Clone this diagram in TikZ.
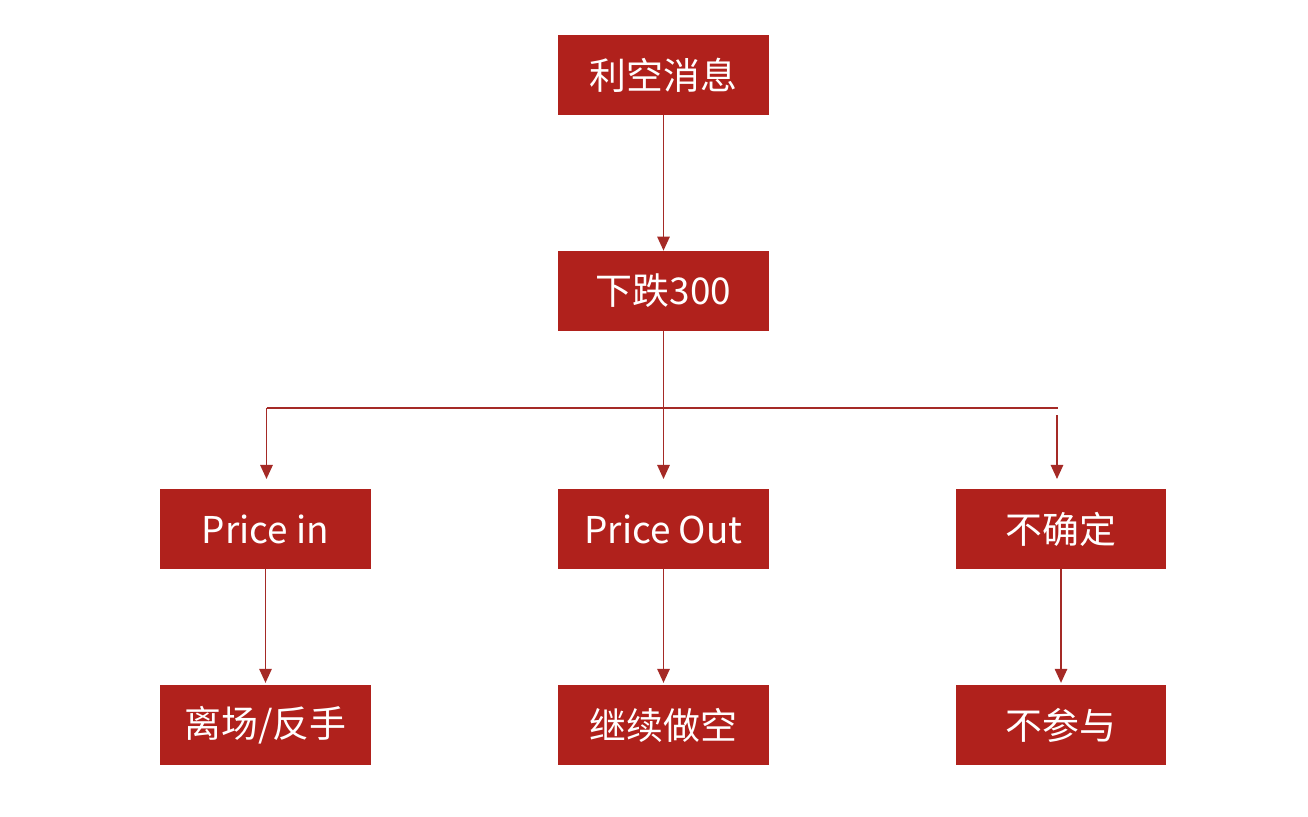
\documentclass[tikz,border=0pt]{standalone}
\usepackage{fontspec}
\setmainfont{Noto Sans CJK SC}
\usetikzlibrary{arrows.meta}
\definecolor{boxred}{HTML}{B0211C}
\definecolor{linered}{HTML}{A52A26}
\begin{document}
\begin{tikzpicture}[x=0.02cm,y=-0.02cm,
  box/.style={fill=boxred,draw=none,minimum width=4.22cm,minimum height=1.6cm,inner sep=0pt,text=white,font=\fontsize{21}{25}\selectfont},
  conn/.style={draw=linered,line width=1.1pt},
  arr/.style={conn,-{Triangle[width=7pt,length=8pt]}}]
\useasboundingbox (0,0) rectangle (1308,816);
\node[box] (a) at (663.5,75) {利空消息};
\node[box] (b) at (663.5,291) {下跌300};
\node[box] (c1) at (265.5,529) {Price in};
\node[box] (c2) at (663.5,529) {Price Out};
\node[box] (c3) at (1061,529) {不确定};
\node[box] (d1) at (265.5,725) {离场/反手};
\node[box] (d2) at (663.5,725) {继续做空};
\node[box] (d3) at (1061,725) {不参与};
\coordinate (hl) at (266.5,408);
\coordinate (hr) at (1058,408);
\coordinate (rs) at (1057,415);
\coordinate (t1) at (266.5,479);
\coordinate (t2) at (663.5,479);
\coordinate (t3) at (1057,479);
\draw[arr] (a.south) -- (b.north);
\draw[conn] (hl) -- (hr);
\draw[arr] (b.south) -- (t2);
\draw[arr] (hl) -- (t1);
\draw[arr] (rs) -- (t3);
\draw[arr] (c1.south) -- ([yshift=1pt]d1.north);
\draw[arr] (c2.south) -- ([yshift=1pt]d2.north);
\draw[arr] (c3.south) -- ([yshift=1pt]d3.north);
\end{tikzpicture}
\end{document}
